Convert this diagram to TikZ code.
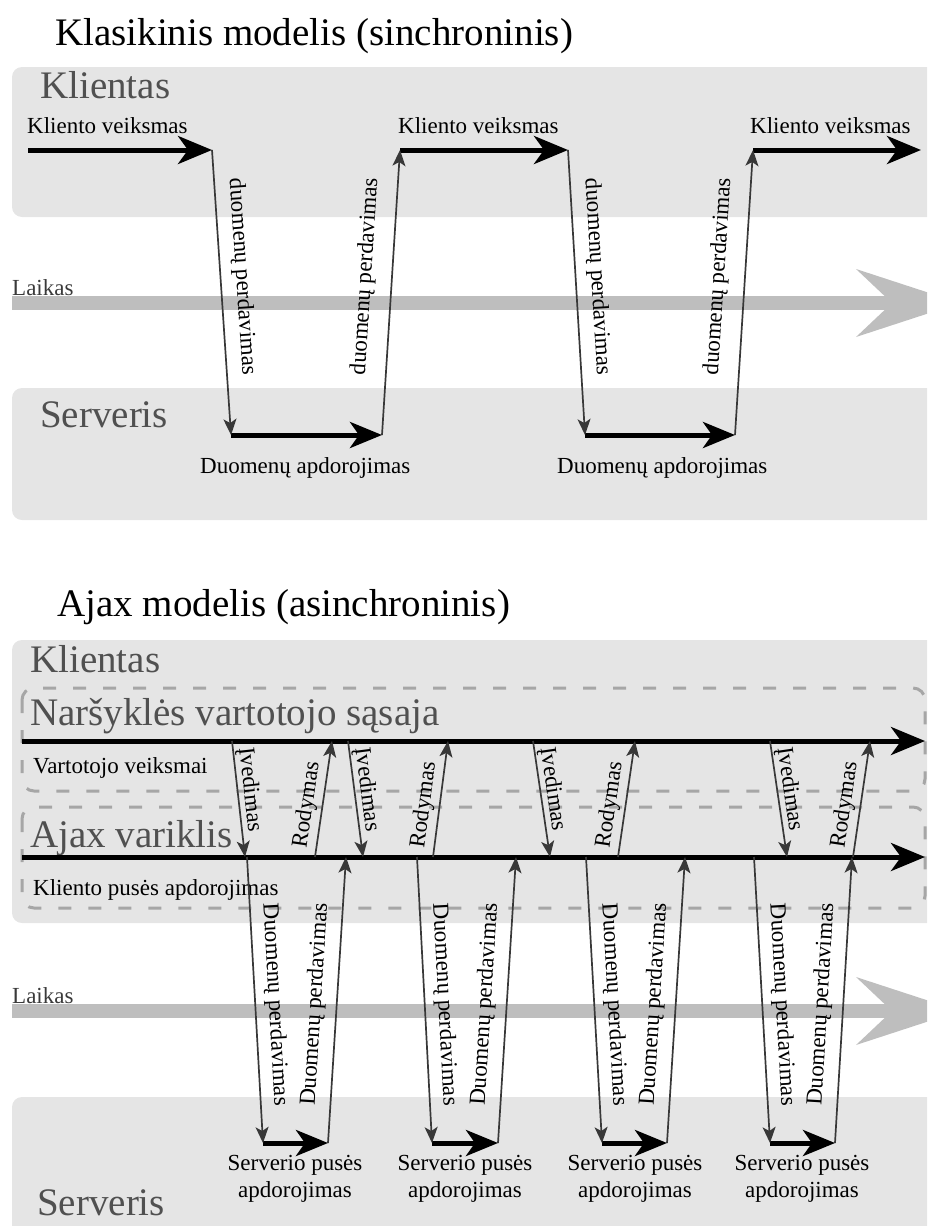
\documentclass[tikz,border=0pt]{standalone}
\usepackage{fontspec}
\setmainfont{Liberation Serif}
\usetikzlibrary{arrows.meta}
\definecolor{panel}{HTML}{E5E5E5}
\definecolor{lane}{HTML}{A6A6A6}
\definecolor{timebar}{HTML}{BEBEBE}
\definecolor{zonetext}{HTML}{505050}
\definecolor{timetext}{HTML}{3A3A3A}
\definecolor{wire}{HTML}{383838}
\begin{document}
\begin{tikzpicture}[x=1pt,y=-1pt,
  heading/.style={anchor=base west, inner sep=0pt, font=\fontsize{39}{44}\selectfont},
  zone/.style={anchor=base west, inner sep=0pt, text=zonetext, font=\fontsize{39}{44}\selectfont},
  small/.style={anchor=base west, inner sep=0pt, font=\fontsize{23}{27}\selectfont},
  smallc/.style={anchor=base, inner sep=0pt, font=\fontsize{23}{27}\selectfont},
  tag/.style={font=\fontsize{23}{27}\selectfont, sloped, above},
  panelbox/.style={fill=panel, rounded corners=10pt},
  layer/.style={draw=lane, line width=3pt, dash pattern=on 13pt off 17pt, rounded corners=12pt},
  flow/.style={line width=5pt, -{Stealth[length=34pt,width=28pt,inset=10pt]}},
  work/.style={line width=5pt, -{Stealth[length=32pt,width=26pt,inset=9pt]}},
  wireline/.style={draw=wire, line width=1.7pt, -{Stealth[length=16pt,width=13pt,inset=4pt]}},
  axis/.style={fill=timebar}
]
\useasboundingbox (0,0) rectangle (927,1226);
\clip (0,0) rectangle (927,1226);

% ---------------- synchronous model ----------------
\fill[panelbox] (12,67) rectangle (980,217);
\fill[panelbox] (12,388) rectangle (980,520);
\node[heading] (title1) at (55,45) {Klasikinis modelis (sinchroninis)};
\node[zone] (client1) at (40,98) {Klientas};
\node[zone] (server1) at (40,427) {Serveris};

% time axis
\fill[axis] (12,296) rectangle (900,310);
\fill[axis] (856,269) -- (960,303) -- (856,337) -- (892,303) -- cycle;
\node[small, text=timetext] (time1) at (12,295) {Laikas};

% client / server steps
\coordinate (a0) at (28,150);
\coordinate (a1) at (212,150);
\coordinate (b1) at (231,435);
\coordinate (b2) at (382,435);
\coordinate (a2) at (400,150);
\coordinate (a3) at (568,150);
\coordinate (b3) at (585,435);
\coordinate (b4) at (735,435);
\coordinate (a4) at (753,150);
\coordinate (a5) at (921,150);

\draw[flow] (a0) -- (a1);
\draw[flow] (a2) -- (a3);
\draw[flow] (a4) -- (a5);
\draw[work] (b1) -- (b2);
\draw[work] (b3) -- (b4);
\draw[wireline] (a1) -- node[tag, pos=0.45, inner sep=10pt] (d1) {duomenų perdavimas} (b1);
\draw[wireline] (b2) -- node[tag, pos=0.55, inner sep=15pt] (u1) {duomenų perdavimas} (a2);
\draw[wireline] (a3) -- node[tag, pos=0.45, inner sep=10pt] (d2) {duomenų perdavimas} (b3);
\draw[wireline] (b4) -- node[tag, pos=0.55, inner sep=15pt] (u2) {duomenų perdavimas} (a4);

\node[small] (act1) at (27,133) {Kliento veiksmas};
\node[small] (act2) at (398,133) {Kliento veiksmas};
\node[small] (act3) at (750,133) {Kliento veiksmas};
\node[small] (proc1) at (200,473) {Duomenų apdorojimas};
\node[small] (proc2) at (557,473) {Duomenų apdorojimas};

% ---------------- asynchronous model ----------------
\fill[panelbox] (12,640) rectangle (980,923);
\fill[panelbox] (12,1097) rectangle (980,1260);
\node[heading] (title2) at (57,616) {Ajax modelis (asinchroninis)};
\node[zone] (client2) at (30,672) {Klientas};
\node[zone] (server2) at (37,1215) {Serveris};

\draw[layer] (22,688) rectangle (925,791);
\draw[layer] (22,807) rectangle (925,908);
\node[zone] (ui) at (30,725) {Naršyklės vartotojo sąsaja};
\node[zone] (engine) at (30,847) {Ajax variklis};
\node[small] (uiact) at (33,773) {Vartotojo veiksmai};
\node[small] (cproc) at (33,895) {Kliento pusės apdorojimas};

% time axis
\fill[axis] (12,1004) rectangle (900,1018);
\fill[axis] (856,977) -- (960,1011) -- (856,1045) -- (892,1011) -- cycle;
\node[small, text=timetext] (time2) at (12,1003) {Laikas};

% user interface and engine timelines
\coordinate (ui0) at (22,741);
\coordinate (ui1) at (925,741);
\coordinate (en0) at (22,857);
\coordinate (en1) at (925,857);
\draw[flow] (ui0) -- (ui1);
\draw[flow] (en0) -- (en1);

% input and display between the interface and the engine
\foreach \xa/\xb [count=\i] in {232/245, 348/363, 533/550, 770/787}{
  \coordinate (in\i a) at (\xa,741);
  \coordinate (in\i b) at (\xb,857);
  \draw[wireline] (in\i a) -- node[tag, pos=0.43, inner sep=1pt] (inl\i) {Įvedimas} (in\i b);
}
\foreach \xa/\xb [count=\i] in {315/332, 433/448, 618/635, 853/870}{
  \coordinate (sh\i a) at (\xa,857);
  \coordinate (sh\i b) at (\xb,741);
  \draw[wireline] (sh\i a) -- node[tag, pos=0.43, inner sep=4pt] (shl\i) {Rodymas} (sh\i b);
}

% requests to the server and replies
\foreach \d/\db/\u/\ut [count=\i] in {247/263/328/346, 417/432/498/516, 586/602/667/685, 754/770/835/852}{
  \coordinate (rq\i a) at (\d,857);
  \coordinate (rq\i b) at (\db,1143);
  \coordinate (rp\i a) at (\u,1143);
  \coordinate (rp\i b) at (\ut,857);
  \draw[work] (rq\i b) -- (rp\i a);
  \draw[wireline] (rq\i a) -- node[tag, pos=0.52, inner sep=8pt] (rql\i) {Duomenų perdavimas} (rq\i b);
  \draw[wireline] (rp\i a) -- node[tag, pos=0.48, inner sep=10pt] (rpl\i) {Duomenų perdavimas} (rp\i b);
}
\foreach \c [count=\i] in {295, 465, 635, 802}{
  \node[smallc] (sp\i) at (\c,1170) {Serverio pusės};
  \node[smallc] (sq\i) at (\c,1197) {apdorojimas};
}
\end{tikzpicture}
\end{document}
